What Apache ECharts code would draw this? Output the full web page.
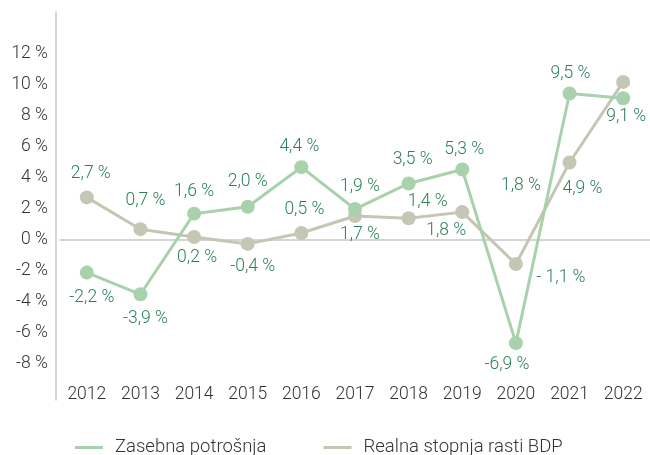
<!DOCTYPE html>
<html>
<head>
<meta charset="utf-8">
<script src="https://cdn.jsdelivr.net/npm/echarts@6/dist/echarts.min.js"></script>
<style>
  html, body { margin: 0; padding: 0; background: #fff; }
  #chart { width: 650px; height: 455px; }
</style>
</head>
<body>
<div id="chart"></div>
<script>
// data
var years = ['2012', '2013', '2014', '2015', '2016', '2017', '2018', '2019', '2020', '2021', '2022'];
var consumption = [-2.1, -3.5, 1.7, 2.15, 4.7, 2.0, 3.65, 4.55, -6.65, 9.45, 9.15];
var gdp = [2.75, 0.7, 0.2, -0.25, 0.45, 1.55, 1.4, 1.8, -1.55, 5.0, 10.2];
var consumptionLabels = ['-2,2 %', '-3,9 %', '1,6 %', '2,0 %', '4,4 %', '1,9 %', '3,5 %', '5,3 %', '-6,9 %', '9,5 %', '9,1 %'];
var gdpLabels = ['2,7 %', '0,7 %', '0,2 %', '-0,4 %', '0,5 %', '1,7 %', '1,4 %', '1,8 %', '- 1,1 %', '4,9 %', ''];
var extraLabel = '1,8 %';
var yTicks = [-8, -6, -4, -2, 0, 2, 4, 6, 8, 10, 12];

// label placement (px from the point centre)
var consumptionOffsets = [[5, 25], [5, 24], [0, -22], [0, -25], [-2, -21], [5, -22], [4, -24], [2, -20], [-9, 22], [1, -20], [3, 18]];
var gdpOffsets = [[4, -24], [5, -29], [3, 21], [5, 23], [3, -23], [5, 19], [19, -17], [-16, 19], [45, 14], [13, 26], [0, 0]];

var GREEN = '#a9d1ab';
var GREY = '#c5c6b4';
var LABEL_GREEN = '#2f8159';
var TEXT = '#333333';
var FONT = 'Roboto';

function labelled(values, texts, offsets) {
    return values.map(function (v, i) {
        return {
            value: v,
            label: { formatter: texts[i], offset: offsets[i] }
        };
    });
}

var baseLabel = {
    show: true,
    position: 'inside',
    align: 'center',
    verticalAlign: 'middle',
    color: LABEL_GREEN,
    fontFamily: FONT,
    fontWeight: 300,
    fontSize: 17.5
};

var chart = echarts.init(document.getElementById('chart'));
chart.setOption({
    animation: false,
    grid: { left: 60, right: -4, top: 12, bottom: 55 },
    legend: {
        data: ['Zasebna potrošnja', 'Realna stopnja rasti BDP'],
        left: 70,
        top: 433,
        icon: 'rect',
        itemWidth: 28,
        itemHeight: 3,
        itemGap: 57,
        textStyle: { color: TEXT, fontFamily: FONT, fontWeight: 300, fontSize: 18.5, padding: [0, 0, 0, 7] }
    },
    xAxis: [{
        type: 'category',
        data: years,
        position: 'bottom',
        offset: -22,
        axisLine: { show: false, onZero: false },
        axisTick: { show: false },
        axisLabel: { color: TEXT, fontFamily: FONT, fontWeight: 300, fontSize: 17.5, margin: 8 }
    }, {
        type: 'category',
        data: years,
        position: 'bottom',
        axisLine: { show: true, onZero: true, lineStyle: { color: '#c8c8c8', width: 1.5 } },
        axisTick: { show: false },
        axisLabel: { show: false }
    }],
    yAxis: {
        type: 'value',
        min: -10.32,
        max: 14.71,
        offset: 4,
        axisLine: { show: true, lineStyle: { color: '#c8c8c8', width: 1.5 } },
        axisTick: { show: false },
        splitLine: { show: false },
        axisLabel: {
            customValues: yTicks,
            color: TEXT,
            fontFamily: FONT,
            fontWeight: 300,
            fontSize: 17.5,
            margin: 8,
            formatter: function (v) { return v + ' %'; }
        }
    },
    series: [{
        name: 'Realna stopnja rasti BDP',
        type: 'line',
        data: labelled(gdp, gdpLabels, gdpOffsets),
        symbol: 'circle',
        symbolSize: 14,
        lineStyle: { color: GREY, width: 3 },
        itemStyle: { color: GREY },
        label: baseLabel,
        markPoint: {
            symbol: 'circle',
            symbolSize: 0,
            silent: true,
            data: [{
                coord: ['2020', gdp[8]],
                label: Object.assign({}, baseLabel, { formatter: extraLabel, offset: [5, -78] })
            }]
        }
    }, {
        name: 'Zasebna potrošnja',
        type: 'line',
        data: labelled(consumption, consumptionLabels, consumptionOffsets),
        symbol: 'circle',
        symbolSize: 14,
        lineStyle: { color: GREEN, width: 3 },
        itemStyle: { color: GREEN },
        label: baseLabel
    }]
});
</script>
</body>
</html>
